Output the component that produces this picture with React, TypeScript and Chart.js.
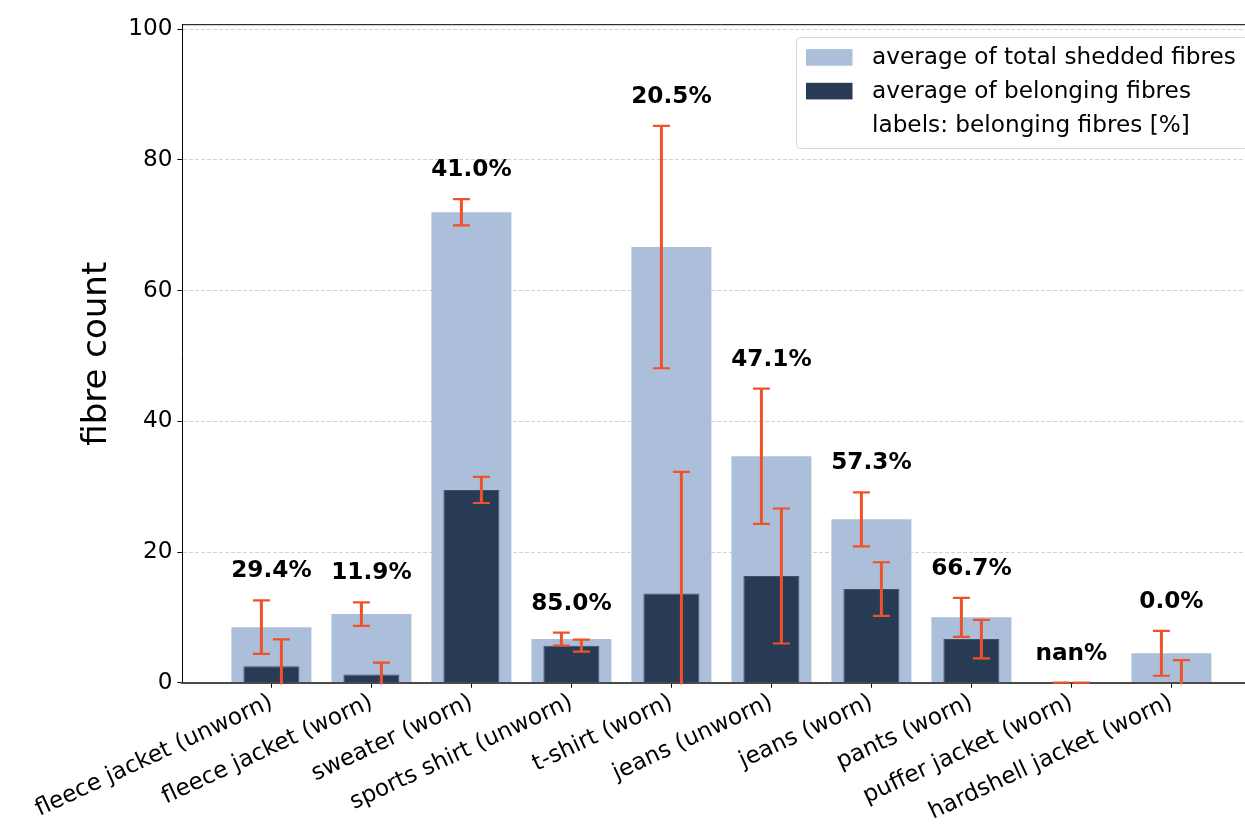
import React, { useEffect, useRef } from 'react';
import { Chart, registerables } from 'chart.js';

Chart.register(...registerables);

const categories = [
  'fleece jacket (unworn)',
  'fleece jacket (worn)',
  'sweater (worn)',
  'sports shirt (unworn)',
  't-shirt (worn)',
  'jeans (unworn)',
  'jeans (worn)',
  'pants (worn)',
  'puffer jacket (worn)',
  'hardshell jacket (worn)',
];
const totalAvg = [8.5, 10.5, 72.0, 6.67, 66.67, 34.67, 25.0, 10.0, 0, 4.5];
const totalErr = [4.1, 1.8, 2.0, 0.98, 18.55, 10.35, 4.13, 2.98, 0, 3.44];
const belongAvg = [2.5, 1.25, 29.5, 5.67, 13.67, 16.33, 14.33, 6.67, 0, 0];
const belongErr = [4.12, 1.82, 2.0, 0.92, 18.58, 10.33, 4.1, 2.95, 0, 3.44];
const pctLabels = ['29.4%', '11.9%', '41.0%', '85.0%', '20.5%', '47.1%', '57.3%', '66.7%', 'nan%', '0.0%'];
const yTicks = [0, 20, 40, 60, 80, 100];
const legendLabels = [
  'average of total shedded fibres',
  'average of belonging fibres',
  'labels: belonging fibres [%]',
];
const yTitle = 'fibre count';

const FONT = "'DejaVu Sans', sans-serif";
const FS = 23.2;
const LIGHT = '#abbfda';
const DARK = '#283b55';
const ERRC = '#ef5229';
const ERR_SHIFT = 0.1;

export default function App() {
  const ref = useRef<HTMLCanvasElement>(null);

  useEffect(() => {
    const canvas = ref.current;
    if (!canvas) return;

    const extras = {
      id: 'extras',
      afterDraw(chart: any) {
        const { ctx, chartArea, scales } = chart;
        const x = scales.x;
        const y = scales.y;

        // top spine
        ctx.save();
        ctx.strokeStyle = '#000';
        ctx.lineWidth = 1;
        ctx.beginPath();
        ctx.moveTo(chartArea.left, chartArea.top);
        ctx.lineTo(chartArea.right, chartArea.top);
        ctx.stroke();
        ctx.restore();

        // error bars
        ctx.save();
        ctx.beginPath();
        ctx.rect(chartArea.left, chartArea.top, chartArea.right - chartArea.left, chartArea.bottom - chartArea.top + 1.5);
        ctx.clip();
        ctx.strokeStyle = ERRC;
        const drawErr = (xv: number, mean: number, err: number) => {
          const px = x.getPixelForValue(xv);
          const top = y.getPixelForValue(mean + err);
          const bot = y.getPixelForValue(mean - err);
          ctx.lineWidth = 3;
          ctx.beginPath();
          ctx.moveTo(px, top);
          ctx.lineTo(px, bot);
          ctx.stroke();
          ctx.lineWidth = 2.2;
          ctx.beginPath();
          ctx.moveTo(px - 8.5, top);
          ctx.lineTo(px + 8.5, top);
          ctx.moveTo(px - 8.5, bot);
          ctx.lineTo(px + 8.5, bot);
          ctx.stroke();
        };
        categories.forEach((_, i) => {
          drawErr(i - ERR_SHIFT, totalAvg[i], totalErr[i]);
          drawErr(i + ERR_SHIFT, belongAvg[i], belongErr[i]);
        });
        ctx.restore();

        // percentage labels
        ctx.save();
        ctx.font = `bold ${FS}px ${FONT}`;
        ctx.fillStyle = '#000';
        ctx.textAlign = 'center';
        ctx.textBaseline = 'middle';
        categories.forEach((_, i) => {
          const py = y.getPixelForValue(totalAvg[i] + totalErr[i]) - 29;
          ctx.fillText(pctLabels[i], x.getPixelForValue(i), py);
        });
        ctx.restore();

        // legend
        ctx.save();
        const bx = 796.5, by = 37.5, bw = 452, bh = 111, r = 4;
        ctx.beginPath();
        ctx.moveTo(bx + r, by);
        ctx.lineTo(bx + bw - r, by);
        ctx.arcTo(bx + bw, by, bx + bw, by + r, r);
        ctx.lineTo(bx + bw, by + bh - r);
        ctx.arcTo(bx + bw, by + bh, bx + bw - r, by + bh, r);
        ctx.lineTo(bx + r, by + bh);
        ctx.arcTo(bx, by + bh, bx, by + bh - r, r);
        ctx.lineTo(bx, by + r);
        ctx.arcTo(bx, by, bx + r, by, r);
        ctx.closePath();
        ctx.fillStyle = 'rgba(255,255,255,0.8)';
        ctx.fill();
        ctx.strokeStyle = '#d6d6d6';
        ctx.lineWidth = 1;
        ctx.stroke();

        const rows = [57.4, 91.1, 124.8];
        const colors = [LIGHT, DARK, null];
        ctx.font = `${FS}px ${FONT}`;
        ctx.textAlign = 'left';
        ctx.textBaseline = 'middle';
        legendLabels.forEach((lab, i) => {
          const c = colors[i];
          if (c) {
            ctx.fillStyle = c;
            ctx.fillRect(806, rows[i] - 8.3, 46.5, 16.6);
          }
          ctx.fillStyle = '#000';
          ctx.fillText(lab, 872, rows[i] + 1);
        });
        ctx.restore();
      },
    };

    const chart = new Chart(canvas, {
      type: 'bar',
      data: {
        datasets: [
          {
            label: legendLabels[0],
            data: categories.map((_, i) => ({ x: i, y: totalAvg[i] })),
            backgroundColor: LIGHT,
            borderWidth: 0,
            barPercentage: 0.8,
            categoryPercentage: 1,
            grouped: false,
            order: 2,
          } as any,
          {
            label: legendLabels[1],
            data: categories.map((_, i) => ({ x: i, y: belongAvg[i] })),
            backgroundColor: DARK,
            borderColor: '#3e5069',
            borderWidth: 1,
            borderSkipped: 'start',
            barPercentage: 0.56,
            categoryPercentage: 1,
            grouped: false,
            order: 1,
          } as any,
        ],
      },
      options: {
        responsive: false,
        animation: false,
        devicePixelRatio: 1,
        layout: {
          padding: { left: 0, top: 24.7, right: 19.6, bottom: 0 },
          autoPadding: false,
        } as any,
        plugins: {
          legend: { display: false },
          tooltip: { enabled: false },
          title: { display: false },
        },
        scales: {
          x: {
            type: 'linear',
            min: -0.89,
            max: 9.89,
            offset: false,
            afterBuildTicks: (s: any) => {
              s.ticks = categories.map((_, i) => ({ value: i }));
            },
            afterFit: (s: any) => {
              s.height = 142.3;
            },
            grid: {
              display: true,
              drawOnChartArea: false,
              drawTicks: true,
              tickLength: 5,
              tickColor: '#000',
              tickWidth: 1,
              offset: false,
            },
            border: { display: true, color: '#4a4a4a', width: 2, z: 1 },
            ticks: {
              autoSkip: false,
              minRotation: 25,
              maxRotation: 25,
              padding: 1,
              color: '#000',
              font: { family: FONT, size: FS },
              callback: (v: any) => categories[v as number] ?? '',
            },
          } as any,
          y: {
            type: 'linear',
            min: 0,
            max: 100.7,
            afterBuildTicks: (s: any) => {
              s.ticks = yTicks.map((v) => ({ value: v }));
            },
            afterFit: (s: any) => {
              s.width = 182.4;
            },
            grid: {
              color: '#d2d2d2',
              lineWidth: 1,
              drawTicks: true,
              tickLength: 5,
              tickColor: '#000',
              tickWidth: 1,
            },
            border: { display: true, color: '#000', width: 1, dash: [4, 2] },
            ticks: {
              padding: 5,
              color: '#000',
              font: { family: FONT, size: FS },
            },
            title: {
              display: true,
              text: yTitle,
              color: '#000',
              font: { family: FONT, size: 34 },
              padding: { top: 76.6, bottom: 0 },
            },
          } as any,
        },
      },
      plugins: [extras],
    });

    return () => chart.destroy();
  }, []);

  return (
    <div
      style={{
        position: 'fixed',
        left: 0,
        top: 0,
        width: 1245,
        height: 825,
        overflow: 'hidden',
        background: '#fff',
      }}
    >
      <canvas ref={ref} width={1280} height={825} style={{ width: 1280, height: 825, display: 'block' }} />
    </div>
  );
}
